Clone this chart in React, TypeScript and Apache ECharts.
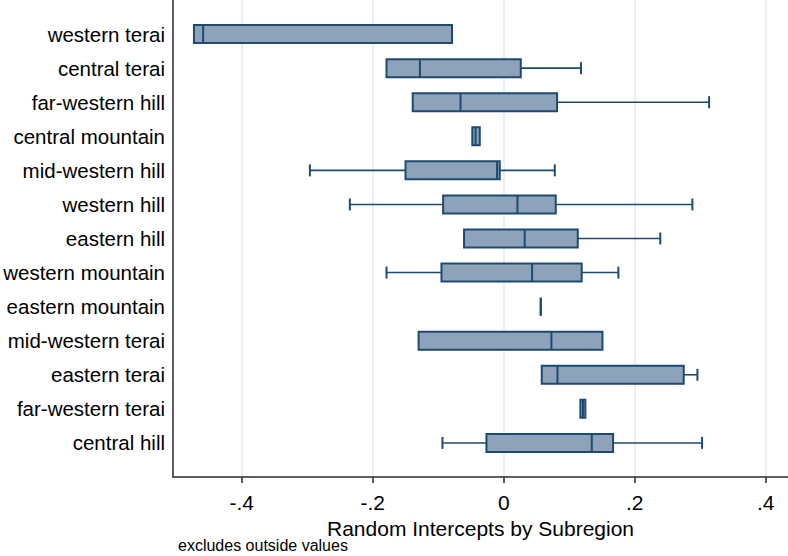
import React, { useEffect, useRef } from "react";
import * as echarts from "echarts";

const categories = [
  "western terai",
  "central terai",
  "far-western hill",
  "central mountain",
  "mid-western hill",
  "western hill",
  "eastern hill",
  "western mountain",
  "eastern mountain",
  "mid-western terai",
  "eastern terai",
  "far-western terai",
  "central hill",
];
// [lower whisker, q1, median, q3, upper whisker]
const lowerWhisker = [-0.473, -0.179, -0.139, -0.048, -0.296, -0.235, -0.0606, -0.179, 0.0565, -0.13, 0.058, 0.117, -0.0936];
const q1 = [-0.473, -0.179, -0.139, -0.048, -0.15, -0.0926, -0.0606, -0.0951, 0.0565, -0.13, 0.058, 0.117, -0.0264];
const median = [-0.459, -0.128, -0.066, -0.043, -0.0102, 0.0209, 0.032, 0.0433, 0.0565, 0.0728, 0.082, 0.121, 0.1344];
const q3 = [-0.079, 0.026, 0.0814, -0.0366, -0.0061, 0.0794, 0.113, 0.119, 0.0565, 0.1507, 0.2748, 0.1246, 0.1669];
const upperWhisker = [-0.079, 0.118, 0.3135, -0.0366, 0.0779, 0.288, 0.239, 0.175, 0.0565, 0.1507, 0.2957, 0.1246, 0.3028];
const xTicks = [-0.4, -0.2, 0, 0.2, 0.4];

const FONT = "'Liberation Sans', Arial, Helvetica, sans-serif";
const STROKE = "#1d4a70";
const FILL = "#8ea3b9";

export default function App() {
  const ref = useRef<HTMLDivElement>(null);
  useEffect(() => {
    if (!ref.current) return;
    const chart = echarts.init(ref.current, null, { renderer: "svg" });
    const data = categories.map((_, i) => [i, lowerWhisker[i], q1[i], median[i], q3[i], upperWhisker[i]]);
    const fmt = (v: number) => {
      if (Math.abs(v) < 1e-9) return "0";
      const s = v.toFixed(1);
      return s.replace("0.", ".");
    };
    chart.setOption({
      animation: false,
      grid: { left: 173, right: 0, top: -1, bottom: 79, containLabel: false },
      xAxis: {
        type: "value",
        min: -0.505,
        max: 0.434,
        name: "Random Intercepts by Subregion",
        nameLocation: "middle",
        nameGap: 28,
        nameTextStyle: { fontFamily: FONT, fontSize: 21, color: "#000" },
        axisLine: { show: true, onZero: false, lineStyle: { color: "#2a2a2a", width: 1.5 } },
        axisTick: { show: true, length: 6, lineStyle: { color: "#2a2a2a", width: 1.5 }, customValues: xTicks },
        axisLabel: {
          customValues: xTicks,
          fontFamily: FONT,
          fontSize: 21,
          color: "#000",
          margin: 15,
          formatter: (v: number) => fmt(v),
        },
        splitLine: { show: true, lineStyle: { color: "#e3ebee", width: 1.5 } },
      },
      yAxis: {
        type: "value",
        inverse: true,
        min: -1,
        max: 13,
        interval: 1,
        axisLine: { show: true, onZero: false, lineStyle: { color: "#2a2a2a", width: 1.5 } },
        axisTick: { show: false },
        splitLine: { show: false },
        axisLabel: {
          fontFamily: FONT,
          fontSize: 20.5,
          color: "#000",
          margin: 8,
          formatter: (v: number) => {
            const i = Math.round(v);
            return i >= 0 && i < categories.length ? categories[i] : "";
          },
        },
      },
      series: [
        {
          type: "custom",
          data,
          encode: { y: 0, x: [1, 2, 3, 4, 5] },
          renderItem: (params: any, api: any) => {
            const idx = api.value(0);
            const lo = api.value(1);
            const a = api.value(2);
            const m = api.value(3);
            const b = api.value(4);
            const hi = api.value(5);
            const band = api.size([0, 1])[1];
            const hb = band * 0.264;
            const hc = band * 0.176;
            const pLo = api.coord([lo, idx]);
            const pA = api.coord([a, idx]);
            const pM = api.coord([m, idx]);
            const pB = api.coord([b, idx]);
            const pHi = api.coord([hi, idx]);
            const y = pA[1];
            const children: any[] = [];
            const wStyle = { stroke: STROKE, lineWidth: 1.6 };
            if (lo < a - 1e-9) {
              children.push({ type: "line", shape: { x1: pLo[0], y1: y, x2: pA[0], y2: y }, style: wStyle });
              children.push({ type: "line", shape: { x1: pLo[0], y1: y - hc, x2: pLo[0], y2: y + hc }, style: { stroke: STROKE, lineWidth: 2 } });
            }
            if (hi > b + 1e-9) {
              children.push({ type: "line", shape: { x1: pB[0], y1: y, x2: pHi[0], y2: y }, style: wStyle });
              children.push({ type: "line", shape: { x1: pHi[0], y1: y - hc, x2: pHi[0], y2: y + hc }, style: { stroke: STROKE, lineWidth: 2 } });
            }
            children.push({
              type: "rect",
              shape: { x: pA[0], y: y - hb, width: pB[0] - pA[0], height: 2 * hb },
              style: { fill: FILL, stroke: STROKE, lineWidth: 2 },
            });
            children.push({ type: "line", shape: { x1: pM[0], y1: y - hb, x2: pM[0], y2: y + hb }, style: { stroke: STROKE, lineWidth: 2 } });
            return { type: "group", children };
          },
        },
      ],
      graphic: [
        {
          type: "text",
          left: 178,
          top: 537,
          style: { text: "excludes outside values", fontFamily: FONT, fontSize: 16, fill: "#000" },
        },
      ],
    });
    return () => chart.dispose();
  }, []);
  return <div ref={ref} style={{ position: "fixed", left: 0, top: 0, width: 788, height: 556, background: "#fff" }} />;
}
